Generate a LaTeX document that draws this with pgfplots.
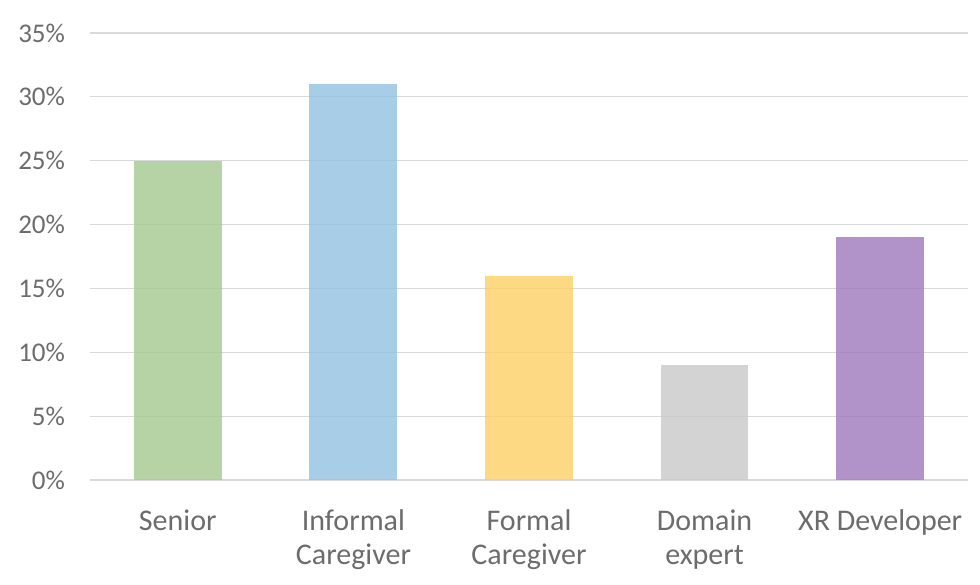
\documentclass[border=0pt]{standalone}
\usepackage{pgfplots}
\pgfplotsset{compat=1.18}
\usepackage{fontspec}
\setmainfont{Carlito}
\definecolor{txt}{RGB}{108,108,108}
\definecolor{gridc}{RGB}{217,217,217}
\definecolor{cSenior}{RGB}{163,200,143}
\definecolor{cInformal}{RGB}{145,194,224}
\definecolor{cFormal}{RGB}{252,207,100}
\definecolor{cDomain}{RGB}{200,200,200}
\definecolor{cXR}{RGB}{157,120,187}
\begin{document}
\begin{tikzpicture}
\useasboundingbox (-45pt,-52pt) rectangle (445pt,240pt);
\begin{axis}[
  at={(0,0)}, anchor=south west,
  scale only axis, width=439pt, height=223.5pt,
  xmin=-0.5, xmax=4.5, ymin=0, ymax=35,
  axis line style={draw=none},
  major tick length=0pt,
  ymajorgrids, grid style={gridc, line width=0.6pt},
  ytick={0,5,...,35},
  yticklabel={\pgfmathprintnumber{\tick}\%},
  /pgf/number format/assume math mode=true,
  xtick={0,1,2,3,4},
  xticklabels={Senior,{Informal\\Caregiver},{Formal\\Caregiver},{Domain\\expert},{XR Developer}},
  ticklabel style={text=txt},
  yticklabel style={font=\fontsize{13.5pt}{16.5pt}\selectfont, xshift=-9pt},
  xticklabel style={font=\fontsize{15pt}{17pt}\selectfont, align=center, yshift=-11.5pt},
  ybar, bar width=0.5, bar shift=0pt,
  every axis plot/.append style={draw=none, fill opacity=0.8},
]
\addplot[fill=cSenior] coordinates {(0,25)};
\addplot[fill=cInformal] coordinates {(1,31)};
\addplot[fill=cFormal] coordinates {(2,16)};
\addplot[fill=cDomain] coordinates {(3,9)};
\addplot[fill=cXR] coordinates {(4,19)};
\end{axis}
\end{tikzpicture}
\end{document}
